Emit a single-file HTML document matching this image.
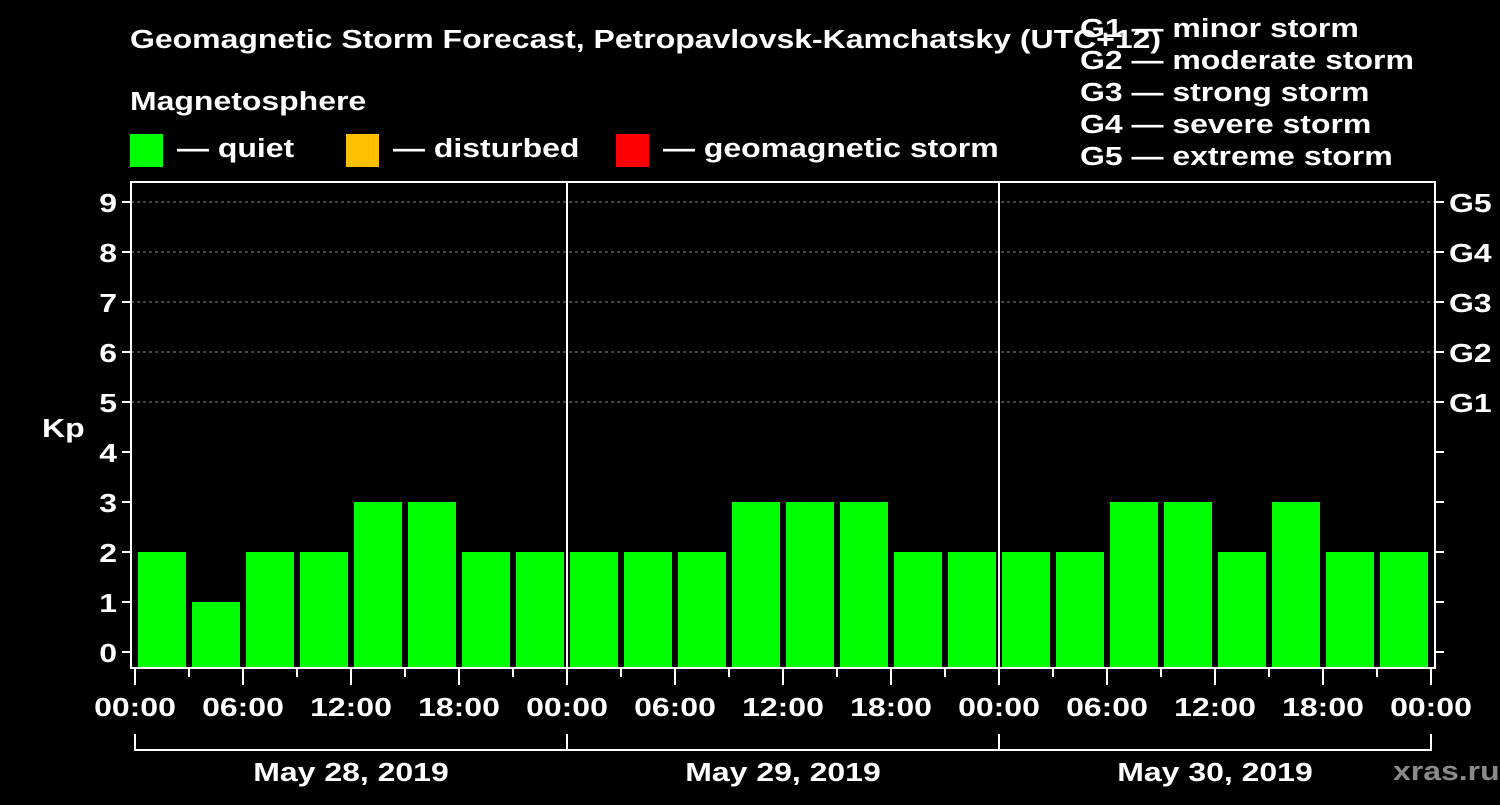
<!DOCTYPE html>
<html><head><meta charset="utf-8"><style>
body{margin:0;background:#000;width:1500px;height:800px;overflow:hidden}
svg text{font-family:"Liberation Sans",Arial,sans-serif;font-weight:bold;fill:#fff}
</style></head><body>
<svg id="c" width="1500" height="800">
<text x="130" y="48" font-size="26">Geomagnetic Storm Forecast, Petropavlovsk-Kamchatsky (UTC+12)</text>
<text x="130" y="110" font-size="26">Magnetosphere</text>
<g><rect x="130" y="134" width="33" height="33" fill="#00ff00"/><text x="177" y="157" font-size="26">— quiet</text></g>
<g><rect x="346" y="134" width="33" height="33" fill="#ffc000"/><text x="393" y="157" font-size="26">— disturbed</text></g>
<g><rect x="616" y="134" width="33" height="33" fill="#ff0000"/><text x="663" y="157" font-size="26">— geomagnetic storm</text></g>
<g font-size="26">
<text x="1080" y="37">G1 — minor storm</text>
<text x="1080" y="69">G2 — moderate storm</text>
<text x="1080" y="101">G3 — strong storm</text>
<text x="1080" y="133">G4 — severe storm</text>
<text x="1080" y="165">G5 — extreme storm</text>
</g>
<text x="42" y="437" font-size="26">Kp</text>
<text x="1393" y="780" font-size="26" style="fill:#8a8a8a">xras.ru</text>
<g id="grid"></g><g id="bars"></g><g id="axes"></g>
</svg>
<script>
const days=["May 28, 2019","May 29, 2019","May 30, 2019"];
const kpValues=[2,1,2,2,3,3,2,2, 2,2,2,3,3,3,2,2, 2,2,3,3,2,3,2,2];
const yTicks=[0,1,2,3,4,5,6,7,8,9];
const gLabels=["G1","G2","G3","G4","G5"];
const gLevels=[5,6,7,8,9];
const xTickLabels=["00:00","06:00","12:00","18:00"];
const NS="http://www.w3.org/2000/svg";
const X0=135,DAYW=432,L=131,R=1435,T=182,B=668;
const y=v=>652-50*v;
const x=h=>X0+h*DAYW/24;
function mk(p,tag,at){const e=document.createElementNS(NS,tag);for(const k in at)e.setAttribute(k,at[k]);document.getElementById(p).appendChild(e);return e;}
yTicks.forEach(v=>{
 if(v>=5){const g=mk('grid','line',{x1:L,x2:R,y1:y(v),y2:y(v),stroke:'#888','stroke-dasharray':'3,3'});
 
 }
 const t=mk('axes','line',{x1:L-9,x2:L,y1:y(v),y2:y(v),stroke:'#fff','stroke-width':2});
 
 
 const rt=mk('axes','line',{x1:R,x2:R+9,y1:y(v),y2:y(v),stroke:'#fff','stroke-width':2});
 
 
 const l=mk('axes','text',{x:L-14,y:y(v)+10,'font-size':26,'text-anchor':'end'});l.textContent=v;
 
 
});
gLabels.forEach((g,i)=>{const l=mk('axes','text',{x:R+14,y:y(gLevels[i])+10,'font-size':26});l.textContent=g;
 
 });
kpValues.forEach((v,i)=>{const b=mk('bars','rect',{x:x(i*3)+3,y:y(v),width:48,height:B-y(v),fill:v>=5?'#ff0000':v>=4?'#ffc000':'#00ff00'});
 
 });
const fr=mk('axes','rect',{x:L,y:T,width:R-L,height:B-T,fill:'none',stroke:'#fff','stroke-width':2});


days.forEach((d,di)=>{
 if(di>0){const s=mk('axes','line',{x1:x(di*24),x2:x(di*24),y1:T,y2:B,stroke:'#fff','stroke-width':2});
 
 }
 for(let h=0;h<24;h+=3){const t=mk('axes','line',{x1:x(di*24+h),x2:x(di*24+h),y1:B,y2:h%6==0?B+17:B+9,stroke:'#fff','stroke-width':2});
 
 }
 xTickLabels.forEach((lab,j)=>{const l=mk('axes','text',{x:x(di*24+j*6),y:716,'font-size':26,'text-anchor':'middle'});l.textContent=lab;
 
 });
 const br=mk('axes','path',{d:`M${x(di*24)},734V750H${x(di*24+24)}V734`,fill:'none',stroke:'#fff','stroke-width':2});
 
 
 const dl=mk('axes','text',{x:x(di*24+12),y:781,'font-size':26,'text-anchor':'middle'});dl.textContent=d;
 
 
});
const et=mk('axes','line',{x1:x(72),x2:x(72),y1:B,y2:B+17,stroke:'#fff','stroke-width':2});


const el=mk('axes','text',{x:x(72),y:716,'font-size':26,'text-anchor':'middle'});el.textContent="00:00";


// horizontal stretch of all text about its anchor x
const SX=1.23;
document.querySelectorAll('svg text').forEach(t=>{const tx=parseFloat(t.getAttribute('x'));t.setAttribute('transform',`matrix(${SX},0,0,1,${-(SX-1)*tx},0)`);});
</script>
</body></html>
